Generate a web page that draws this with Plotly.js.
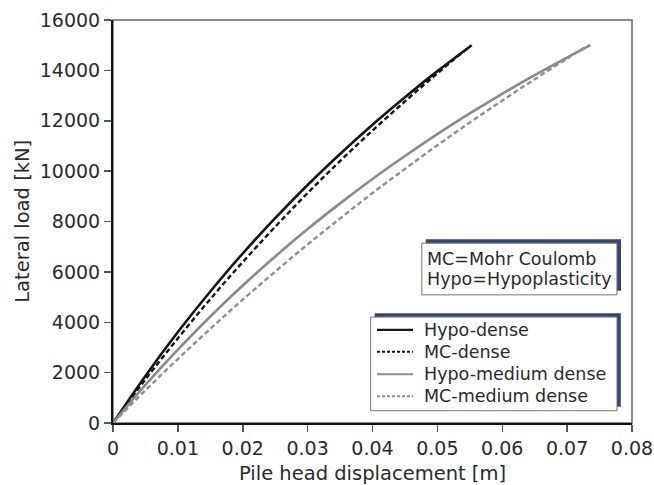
<!DOCTYPE html>
<html>
<head>
<meta charset="utf-8">
<script src="https://cdn.plot.ly/plotly-3.0.1.min.js"></script>
<style>html,body{margin:0;padding:0;background:#fff;}#chart{width:654px;height:485px;}</style>
</head>
<body>
<div id="chart"></div>
<script>
// Pile head displacement [m] and lateral load [kN]
const dispHypoDense = [0, 0.005, 0.01, 0.015, 0.02, 0.025, 0.03, 0.035, 0.04, 0.045, 0.05, 0.0553];
const loadHypoDense = [0, 1870, 3610, 5220, 6730, 8130, 9450, 10680, 11840, 12930, 13970, 15000];

const dispMCDense = [0, 0.005, 0.01, 0.015, 0.02, 0.025, 0.03, 0.035, 0.04, 0.045, 0.05, 0.055];
const loadMCDense = [0, 1730, 3360, 4920, 6390, 7790, 9130, 10400, 11610, 12770, 13880, 14950];

const dispHypoMedium = [0, 0.005, 0.01, 0.015, 0.02, 0.025, 0.03, 0.035, 0.04, 0.045, 0.05, 0.055, 0.06, 0.065, 0.07, 0.0736];
const loadHypoMedium = [0, 1510, 2910, 4230, 5460, 6610, 7700, 8720, 9690, 10600, 11470, 12290, 13070, 13810, 14510, 15000];

const dispMCMedium = [0, 0.005, 0.01, 0.015, 0.02, 0.025, 0.03, 0.035, 0.04, 0.045, 0.05, 0.055, 0.06, 0.065, 0.07, 0.0733];
const loadMCMedium = [0, 1300, 2540, 3740, 4900, 6010, 7090, 8120, 9130, 10090, 11030, 11930, 12800, 13650, 14470, 15000];

const seriesNames = ['Hypo-dense', 'MC-dense', 'Hypo-medium dense', 'MC-medium dense'];
const xTickVals = [0, 0.01, 0.02, 0.03, 0.04, 0.05, 0.06, 0.07, 0.08];
const xTickText = ['0', '0.01', '0.02', '0.03', '0.04', '0.05', '0.06', '0.07', '0.08'];
const yTickVals = [0, 2000, 4000, 6000, 8000, 10000, 12000, 14000, 16000];
const yTickText = ['0', '2000', '4000', '6000', '8000', '10000', '12000', '14000', '16000'];
const noteLines = ['MC=Mohr Coulomb', 'Hypo=Hypoplasticity'];
const xTitle = 'Pile head displacement [m]';
const yTitle = 'Lateral load [kN]';

const FONT = 'DejaVu Sans, Arial, sans-serif';
const TXT = '#2a2a2a';
const SHADOW = '#35466e';

const styles = [
  {color: '#151515', width: 2.6},
  {color: '#151515', width: 2.4, dash: '5px,3px'},
  {color: '#8a8a8a', width: 2.6},
  {color: '#8f8f8f', width: 2.4, dash: '5px,3px'}
];
const xs = [dispHypoDense, dispMCDense, dispHypoMedium, dispMCMedium];
const ys = [loadHypoDense, loadMCDense, loadHypoMedium, loadMCMedium];

const traces = seriesNames.map((n, i) => ({
  x: xs[i], y: ys[i], name: n, mode: 'lines', showlegend: false,
  line: Object.assign({shape: 'spline'}, styles[i])
}));

// key box (drawn as shapes + text so the row spacing matches the original)
const keyRowsY = [0.2313, 0.1768, 0.1210, 0.0665];
const keyShapes = [
  {type: 'rect', xref: 'paper', yref: 'paper', x0: 0.5042, x1: 0.9784, y0: 0.0404, y1: 0.2723,
   fillcolor: SHADOW, line: {width: 0}, layer: 'above'},
  {type: 'rect', xref: 'paper', yref: 'paper', x0: 0.4965, x1: 0.9711, y0: 0.0305, y1: 0.2628,
   fillcolor: '#ffffff', line: {color: '#777777', width: 1}, layer: 'above'}
];
seriesNames.forEach((n, i) => {
  keyShapes.push({type: 'line', xref: 'paper', yref: 'paper', x0: 0.5087, x1: 0.5781,
    y0: keyRowsY[i], y1: keyRowsY[i], layer: 'above',
    line: {color: styles[i].color, width: styles[i].width - 0.4, dash: styles[i].dash ? '3px,2px' : 'solid'}});
});
const keyTexts = seriesNames.map((n, i) => ({
  xref: 'paper', yref: 'paper', x: 0.5955, y: keyRowsY[i], xanchor: 'left', yanchor: 'middle',
  text: n, showarrow: false, font: {family: FONT, size: 17.5, color: TXT}
}));

const layout = {
  width: 654, height: 485,
  margin: {l: 113, r: 22, t: 20, b: 62},
  paper_bgcolor: '#ffffff', plot_bgcolor: '#ffffff',
  font: {family: FONT, color: TXT, size: 19},
  showlegend: false,
  xaxis: {
    range: [0, 0.08], tickmode: 'array', tickvals: xTickVals, ticktext: xTickText,
    showgrid: false, zeroline: false,
    showline: true, linecolor: '#111111', linewidth: 2,
    ticks: 'outside', ticklen: 7, tickwidth: 1.5, tickcolor: '#555555',
    tickfont: {family: FONT, size: 19, color: TXT}
  },
  yaxis: {
    range: [0, 16000], tickmode: 'array', tickvals: yTickVals, ticktext: yTickText,
    showgrid: false, zeroline: false,
    showline: true, linecolor: '#111111', linewidth: 2,
    ticks: 'outside', ticklen: 7, tickwidth: 1.5, tickcolor: '#555555',
    tickfont: {family: FONT, size: 19, color: TXT}
  },
  shapes: [
    {type: 'rect', xref: 'paper', yref: 'paper', x0: 0, x1: 1, y0: 0, y1: 1,
     line: {color: '#666666', width: 1.5}, layer: 'below'},
    {type: 'rect', xref: 'paper', yref: 'paper', x0: 0.6026, x1: 0.9788, y0: 0.328, y1: 0.4562,
     fillcolor: SHADOW, line: {width: 0}, layer: 'above'},
    {type: 'rect', xref: 'paper', yref: 'paper', x0: 0.595, x1: 0.971, y0: 0.318, y1: 0.4463,
     fillcolor: '#ffffff', line: {color: '#777777', width: 1}, layer: 'above'}
  ].concat(keyShapes),
  annotations: [
    {xref: 'paper', yref: 'paper', x: 0.5, y: -0.1257, xanchor: 'center', yanchor: 'middle',
     text: xTitle, showarrow: false, font: {family: FONT, size: 19.5, color: TXT}},
    {xref: 'paper', yref: 'paper', x: -0.1748, y: 0.5, xanchor: 'center', yanchor: 'middle',
     textangle: -90, text: yTitle, showarrow: false, font: {family: FONT, size: 19.5, color: TXT}},
    {xref: 'paper', yref: 'paper', x: 0.6018, y: 0.4067, xanchor: 'left', yanchor: 'middle',
     text: noteLines[0], showarrow: false, font: {family: FONT, size: 17.5, color: TXT}},
    {xref: 'paper', yref: 'paper', x: 0.6018, y: 0.357, xanchor: 'left', yanchor: 'middle',
     text: noteLines[1], showarrow: false, font: {family: FONT, size: 17.5, color: TXT}}
  ].concat(keyTexts)
};

Plotly.newPlot('chart', traces, layout, {displayModeBar: false, staticPlot: true});
</script>
</body>
</html>
